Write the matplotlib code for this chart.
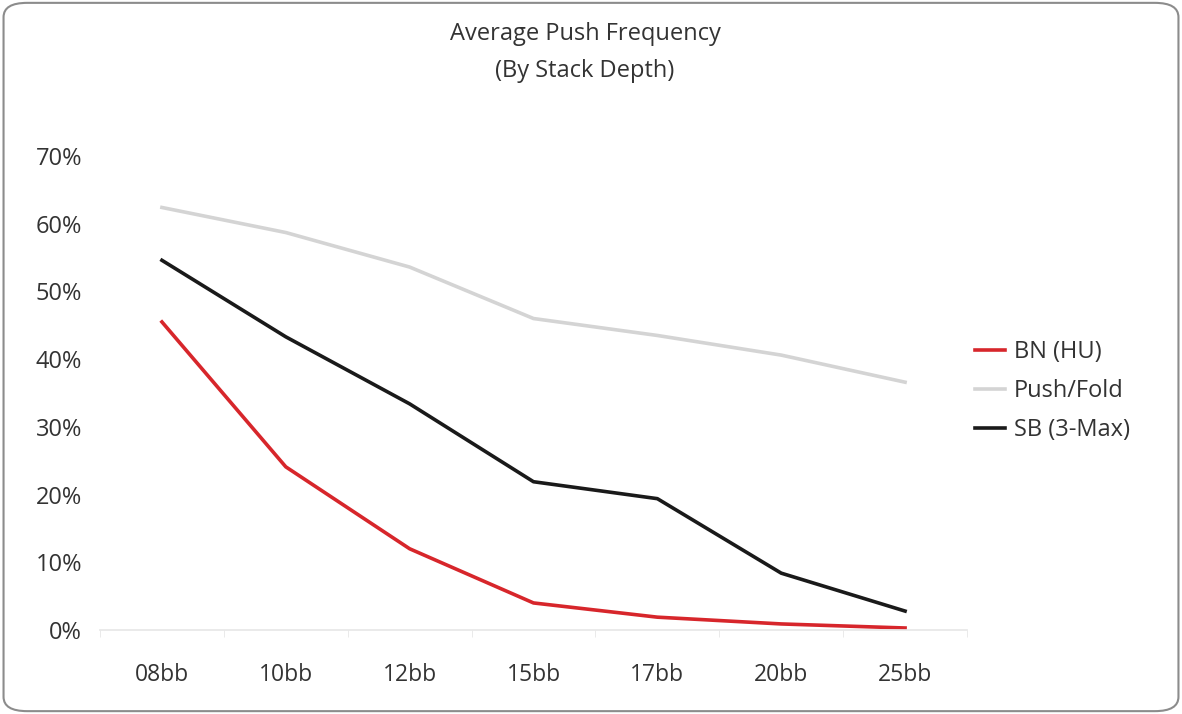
import matplotlib.pyplot as plt
from matplotlib.patches import FancyBboxPatch
from matplotlib.ticker import PercentFormatter

plt.rcParams['font.family'] = ['Open Sans', 'DejaVu Sans']

stacks = ["08bb", "10bb", "12bb", "15bb", "17bb", "20bb", "25bb"]
bn_hu = [45.5, 24.1, 12.0, 4.0, 1.9, 0.9, 0.3]
push_fold = [62.4, 58.7, 53.6, 46.0, 43.5, 40.6, 36.6]
sb_3max = [54.6, 43.3, 33.4, 21.9, 19.4, 8.4, 2.8]

f = plt.figure(figsize=(11.82, 7.14), dpi=100)
ax = f.add_axes([0.0846, 0.1176, 0.7335, 0.6639])

x = range(len(stacks))
ax.plot(x, bn_hu, color='#d7262b', lw=2.6, label='BN (HU)')
ax.plot(x, push_fold, color='#d4d4d4', lw=2.6, label='Push/Fold')
ax.plot(x, sb_3max, color='#1a1a1a', lw=2.6, label='SB (3-Max)')

ax.set_xlim(-0.5, len(stacks) - 0.5)
ax.set_ylim(0, 70)
ax.set_yticks(range(0, 71, 10))
ax.yaxis.set_major_formatter(PercentFormatter(decimals=0))
ax.set_xticks(list(x))
ax.set_xticklabels(stacks)
# category boundary ticks
ax.set_xticks([i - 0.5 for i in range(len(stacks) + 1)], minor=True)
ax.tick_params(axis='x', which='major', length=0, pad=24, labelsize=16.5, colors='#333333')
ax.tick_params(axis='x', which='minor', length=5, color='#e6e6e6', direction='out')
ax.tick_params(axis='y', length=0, pad=13, labelsize=17, colors='#333333')

for s in ['top', 'right', 'left']:
    ax.spines[s].set_visible(False)
ax.spines['bottom'].set_color('#e6e6e6')
ax.spines['bottom'].set_linewidth(1.2)

f.text(0.495, 0.953, "Average Push Frequency", ha='center', va='center', fontsize=17, color='#333333')
f.text(0.495, 0.900, "(By Stack Depth)", ha='center', va='center', fontsize=17, color='#333333')

ax.legend(loc='center left', bbox_to_anchor=(0.985, 0.504), frameon=False, fontsize=17,
          handlelength=1.27, handletextpad=0.38, labelspacing=0.62, labelcolor='#333333')

border = FancyBboxPatch((0.003, 0.004), 0.994, 0.992, boxstyle="round,pad=0,rounding_size=0.02",
                        transform=f.transFigure, fill=False, edgecolor='#8c8c8c', lw=1.5)
f.patches.append(border)

f.savefig("out.png", dpi=100)
